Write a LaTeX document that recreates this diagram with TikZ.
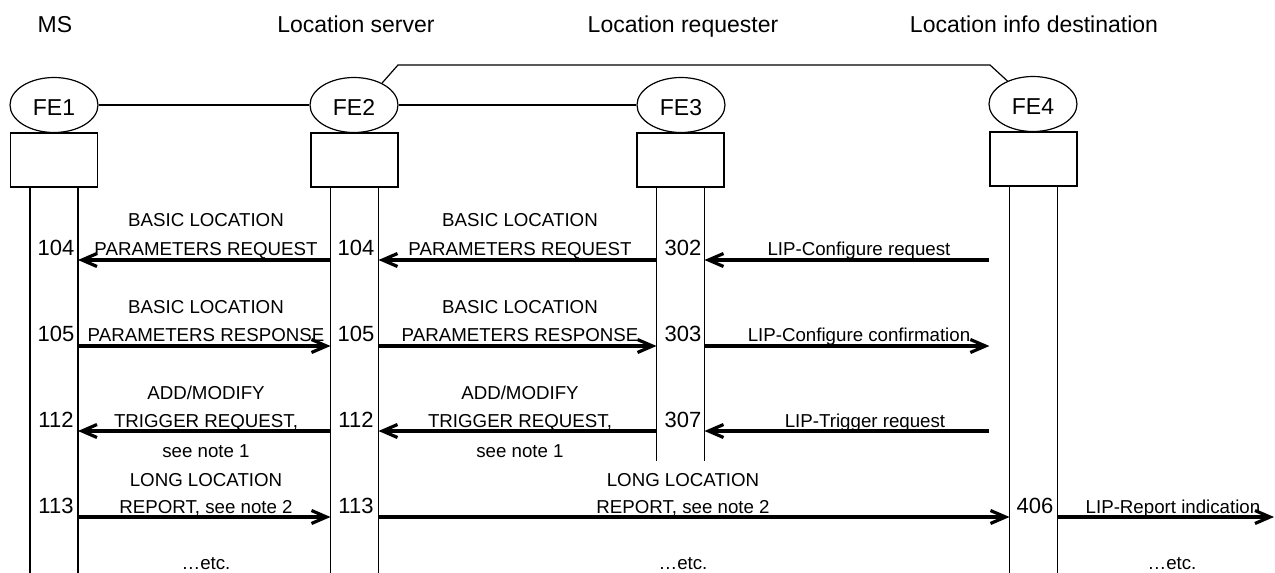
\documentclass[tikz,border=0pt]{standalone}
\usepackage{fontspec}
\setmainfont{Liberation Sans}
\usetikzlibrary{arrows.meta,shapes.geometric,calc}
\begin{document}
\begin{tikzpicture}[x=1pt,y=-1pt,
  fe/.style={ellipse,draw,line width=1.2pt,minimum width=88pt,minimum height=55pt,inner sep=0pt,text height=20pt,text depth=0pt,font=\fontsize{23}{27}\selectfont},
  febox/.style={draw,line width=1.2pt,minimum width=87pt,minimum height=54pt,inner sep=0pt},
  hdr/.style={anchor=base,inner sep=0pt,font=\fontsize{23}{27}\selectfont},
  lbl/.style={anchor=base,inner sep=0pt,font=\fontsize{18.7}{22}\selectfont},
  num/.style={anchor=base,inner sep=0pt,font=\fontsize{22}{26}\selectfont},
  msg/.style={line width=3.2pt,-{Straight Barb[length=15pt,width=13pt]}},
  link/.style={line width=1.2pt},
  life/.style={line width=1.2pt}]

\useasboundingbox (0,0) rectangle (1275,573);

% headers
\node[hdr] (h1) at (55,32) {MS};
\node[hdr] (h2) at (356,32) {Location server};
\node[hdr] (h3) at (683,32) {Location requester};
\node[hdr] (h4) at (1034,32) {Location info destination};

% functional entities
\node[fe] (FE1) at (54,105) {FE1};
\node[fe] (FE2) at (354,105) {FE2};
\node[fe] (FE3) at (681,105) {FE3};
\node[fe] (FE4) at (1033,104) {FE4};

\node[febox] (b1) at (54,160) {};
\node[febox] (b2) at (354.5,160) {};
\node[febox] (b3) at (680.5,160) {};
\node[febox] (b4) at (1033.5,159) {};

% links between entities
\coordinate (k1) at (398,65);
\coordinate (k2) at (990,65);
\draw[link] (FE1) -- (FE2);
\draw[link] (FE2) -- (FE3);
\draw[link] (FE2.38) -- (k1) -- (k2) -- (FE4.138);

% lifelines
\coordinate (l1a) at ([xshift=-24pt]b1.south);
\coordinate (l1b) at ([xshift=24pt]b1.south);
\coordinate (l2a) at ([xshift=-24pt]b2.south);
\coordinate (l2b) at ([xshift=24pt]b2.south);
\coordinate (l3a) at ([xshift=-24pt]b3.south);
\coordinate (l3b) at ([xshift=24pt]b3.south);
\coordinate (l4a) at ([xshift=-24pt]b4.south);
\coordinate (l4b) at ([xshift=24pt]b4.south);
\coordinate (bot) at (0,573);
\coordinate (bot3) at (0,461);
\foreach \l in {l1a,l1b,l2a,l2b,l4a,l4b}{\draw[life] (\l) -- (\l |- bot);}
\draw[life] (l3a) -- (l3a |- bot3);
\draw[life] (l3b) -- (l3b |- bot3);

% rows
\coordinate (r1) at (0,260);
\coordinate (r2) at (0,346);
\coordinate (r3) at (0,431);
\coordinate (r4) at (0,517);
\coordinate (out) at (1274,517);

% row 1
\draw[msg] (l2a |- r1) -- (l1b |- r1);
\draw[msg] (l3a |- r1) -- (l2b |- r1);
\draw[msg] (b4.west |- r1) -- (l3b |- r1);
\node[num] (n11) at (56,255) {104};
\node[num] (n12) at (356,255) {104};
\node[num] (n13) at (683,255) {302};
\node[lbl] (t11a) at (206,226) {BASIC LOCATION};
\node[lbl] (t11b) at (206,255) {PARAMETERS REQUEST};
\node[lbl] (t12a) at (520,226) {BASIC LOCATION};
\node[lbl] (t12b) at (520,255) {PARAMETERS REQUEST};
\node[lbl] (t13) at (859,255) {LIP-Configure request};

% row 2
\draw[msg] (l1b |- r2) -- (l2a |- r2);
\draw[msg] (l2b |- r2) -- (l3a |- r2);
\draw[msg] (l3b |- r2) -- (b4.west |- r2);
\node[num] (n21) at (56,341) {105};
\node[num] (n22) at (356,341) {105};
\node[num] (n23) at (683,341) {303};
\node[lbl] (t21a) at (206,313) {BASIC LOCATION};
\node[lbl] (t21b) at (206,341) {PARAMETERS RESPONSE};
\node[lbl] (t22a) at (520,313) {BASIC LOCATION};
\node[lbl] (t22b) at (520,341) {PARAMETERS RESPONSE};
\node[lbl] (t23) at (859,341) {LIP-Configure confirmation};

% row 3
\draw[msg] (l2a |- r3) -- (l1b |- r3);
\draw[msg] (l3a |- r3) -- (l2b |- r3);
\draw[msg] (b4.west |- r3) -- (l3b |- r3);
\node[num] (n31) at (56,427) {112};
\node[num] (n32) at (356,427) {112};
\node[num] (n33) at (683,427) {307};
\node[lbl] (t31a) at (206,399) {ADD/MODIFY};
\node[lbl] (t31b) at (206,427) {TRIGGER REQUEST,};
\node[lbl] (t31c) at (206,457) {see note 1};
\node[lbl] (t32a) at (520,399) {ADD/MODIFY};
\node[lbl] (t32b) at (520,427) {TRIGGER REQUEST,};
\node[lbl] (t32c) at (520,457) {see note 1};
\node[lbl] (t33) at (865,427) {LIP-Trigger request};

% row 4
\draw[msg] (l1b |- r4) -- (l2a |- r4);
\draw[msg] (l2b |- r4) -- (l4a |- r4);
\draw[msg] (l4b |- r4) -- (out);
\node[num] (n41) at (56,513) {113};
\node[num] (n42) at (356,513) {113};
\node[num] (n44) at (1035,513) {406};
\node[lbl] (t41a) at (206,486) {LONG LOCATION};
\node[lbl] (t41b) at (206,513) {REPORT, see note 2};
\node[lbl] (t42a) at (683,486) {LONG LOCATION};
\node[lbl] (t42b) at (683,513) {REPORT, see note 2};
\node[lbl] (t44) at (1173,513) {LIP-Report indication};

% etc
\node[lbl] (e1) at (206,569) {…etc.};
\node[lbl] (e2) at (683,569) {…etc.};
\node[lbl] (e3) at (1172,569) {…etc.};
\end{tikzpicture}
\end{document}
